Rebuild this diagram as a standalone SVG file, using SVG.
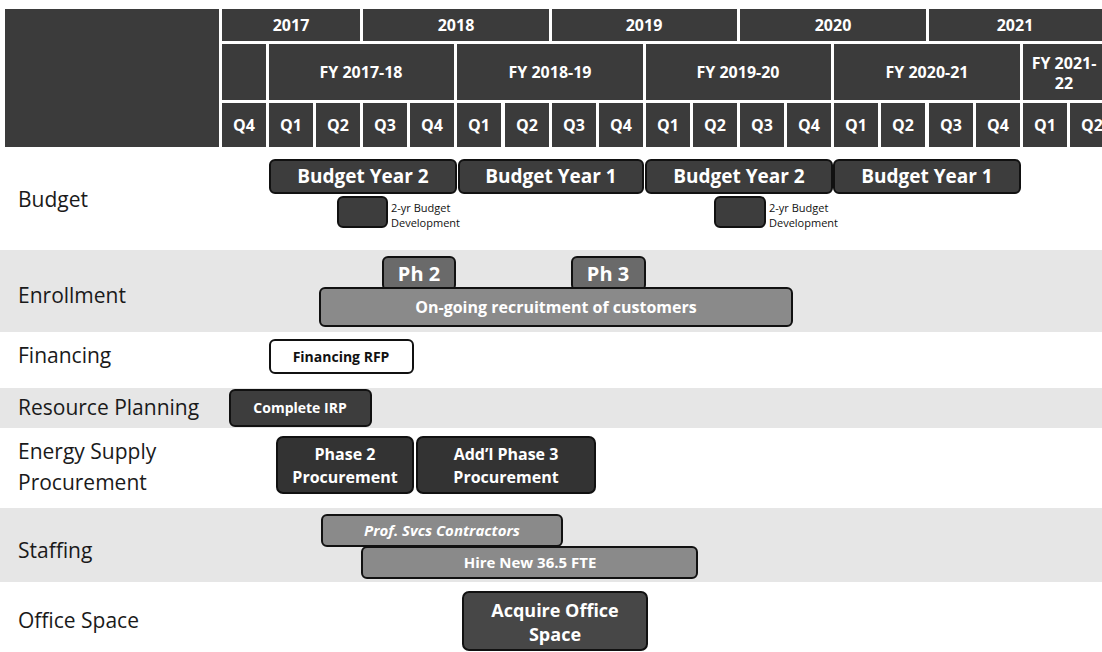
<svg xmlns="http://www.w3.org/2000/svg" width="1102" height="652" viewBox="0 0 1102 652">
<style>
.hdr{fill:#3b3b3b}
.ht{font-family:"Open Sans","Liberation Sans",sans-serif;font-weight:bold;fill:#fff;text-anchor:middle;font-size:16px}
.lbl{font-family:"Open Sans","Liberation Sans",sans-serif;font-size:21px;fill:#1a1a1a}
.band{fill:#e6e6e6}
.bar{stroke:#111;stroke-width:2}
.dark{fill:#3d3d3d}
.mid{fill:#8a8a8a}
.ph{fill:#6a6a6a}
.wt{font-family:"Open Sans","Liberation Sans",sans-serif;font-weight:bold;fill:#fff;text-anchor:middle}
.bt{font-family:"Open Sans","Liberation Sans",sans-serif;font-weight:bold;fill:#111;text-anchor:middle}
.sm{font-family:"Open Sans","Liberation Sans",sans-serif;font-size:11px;fill:#111}
</style>
<rect width="1102" height="652" fill="#fff"/>
<!-- bands -->
<rect class="band" x="0" y="250" width="1102" height="82"/>
<rect class="band" x="0" y="388" width="1102" height="40"/>
<rect class="band" x="0" y="508" width="1102" height="74"/>

<g id="header">
<rect class="hdr" x="5" y="9" width="214" height="138"/>
<rect class="hdr" x="222" y="9" width="138" height="32"/>
<rect class="hdr" x="363" y="9" width="186" height="32"/>
<rect class="hdr" x="552" y="9" width="185" height="32"/>
<rect class="hdr" x="740" y="9" width="186" height="32"/>
<rect class="hdr" x="929" y="9" width="173" height="32"/>
<text class="ht" x="291" y="31">2017</text>
<text class="ht" x="456" y="31">2018</text>
<text class="ht" x="644" y="31">2019</text>
<text class="ht" x="833" y="31">2020</text>
<text class="ht" x="1015" y="31">2021</text>
<rect class="hdr" x="222" y="44" width="44" height="56"/>
<rect class="hdr" x="269" y="44" width="185" height="56"/>
<rect class="hdr" x="457" y="44" width="186" height="56"/>
<rect class="hdr" x="646" y="44" width="185" height="56"/>
<rect class="hdr" x="834" y="44" width="186" height="56"/>
<rect class="hdr" x="1023" y="44" width="79" height="56"/>
<text class="ht" x="361" y="78">FY 2017-18</text>
<text class="ht" x="550" y="78">FY 2018-19</text>
<text class="ht" x="738" y="78">FY 2019-20</text>
<text class="ht" x="927" y="78">FY 2020-21</text>
<text class="ht" x="1064" y="69">FY 2021-</text>
<text class="ht" x="1064" y="89">22</text>
<g>
<rect class="hdr" x="222" y="103" width="44" height="44"/>
<rect class="hdr" x="269" y="103" width="44" height="44"/>
<rect class="hdr" x="316" y="103" width="44" height="44"/>
<rect class="hdr" x="363" y="103" width="44" height="44"/>
<rect class="hdr" x="410" y="103" width="44" height="44"/>
<rect class="hdr" x="457" y="103" width="44" height="44"/>
<rect class="hdr" x="505" y="103" width="44" height="44"/>
<rect class="hdr" x="552" y="103" width="44" height="44"/>
<rect class="hdr" x="599" y="103" width="44" height="44"/>
<rect class="hdr" x="646" y="103" width="44" height="44"/>
<rect class="hdr" x="693" y="103" width="44" height="44"/>
<rect class="hdr" x="740" y="103" width="44" height="44"/>
<rect class="hdr" x="787" y="103" width="44" height="44"/>
<rect class="hdr" x="834" y="103" width="44" height="44"/>
<rect class="hdr" x="881" y="103" width="44" height="44"/>
<rect class="hdr" x="929" y="103" width="44" height="44"/>
<rect class="hdr" x="976" y="103" width="44" height="44"/>
<rect class="hdr" x="1023" y="103" width="44" height="44"/>
<rect class="hdr" x="1070" y="103" width="44" height="44"/>
</g>
<g class="ht">
<text x="244" y="131">Q4</text>
<text x="291" y="131">Q1</text>
<text x="338" y="131">Q2</text>
<text x="385" y="131">Q3</text>
<text x="432" y="131">Q4</text>
<text x="479" y="131">Q1</text>
<text x="527" y="131">Q2</text>
<text x="574" y="131">Q3</text>
<text x="621" y="131">Q4</text>
<text x="668" y="131">Q1</text>
<text x="715" y="131">Q2</text>
<text x="762" y="131">Q3</text>
<text x="809" y="131">Q4</text>
<text x="856" y="131">Q1</text>
<text x="903" y="131">Q2</text>
<text x="951" y="131">Q3</text>
<text x="998" y="131">Q4</text>
<text x="1045" y="131">Q1</text>
<text x="1092" y="131">Q2</text>
</g>
</g>

<g id="row-labels">
<text class="lbl" x="18" y="207">Budget</text>
<text class="lbl" x="18" y="303">Enrollment</text>
<text class="lbl" x="18" y="363">Financing</text>
<text class="lbl" x="18" y="415">Resource Planning</text>
<text class="lbl" x="18" y="459">Energy Supply</text>
<text class="lbl" x="18" y="490">Procurement</text>
<text class="lbl" x="18" y="558">Staffing</text>
<text class="lbl" x="18" y="628">Office Space</text>
</g>

<g id="budget">
<rect class="bar dark" x="270" y="160" width="186" height="33" rx="5"/>
<text class="wt" x="363" y="183" font-size="19">Budget Year 2</text>
<rect class="bar dark" x="459" y="160" width="184" height="33" rx="5"/>
<text class="wt" x="551" y="183" font-size="19">Budget Year 1</text>
<rect class="bar dark" x="646" y="160" width="186" height="33" rx="5"/>
<text class="wt" x="739" y="183" font-size="19">Budget Year 2</text>
<rect class="bar dark" x="834" y="160" width="186" height="33" rx="5"/>
<text class="wt" x="927" y="183" font-size="19">Budget Year 1</text>
</g>
<g id="budget-dev">
<rect class="bar dark" x="338" y="197" width="49" height="30" rx="5"/>
<text class="sm" x="391" y="212">2-yr Budget</text>
<text class="sm" x="391" y="227">Development</text>
<rect class="bar dark" x="715" y="197" width="50" height="30" rx="5"/>
<text class="sm" x="769" y="212">2-yr Budget</text>
<text class="sm" x="769" y="227">Development</text>
</g>

<g id="enrollment">
<rect class="bar ph" x="383" y="257" width="72" height="33" rx="5"/>
<text class="wt" x="419" y="281" font-size="20">Ph 2</text>
<rect class="bar ph" x="572" y="257" width="73" height="33" rx="5"/>
<text class="wt" x="608" y="281" font-size="20">Ph 3</text>
<rect class="bar mid" x="320" y="288" width="472" height="38" rx="5"/>
<text class="wt" x="556" y="313" font-size="16">On-going recruitment of customers</text>
</g>

<g id="financing">
<rect class="bar" fill="#fff" x="270" y="340" width="143" height="33" rx="5"/>
<text class="bt" x="341" y="362" font-size="14">Financing RFP</text>
</g>

<g id="resource-planning">
<rect class="bar dark" x="230" y="390" width="141" height="36" rx="5"/>
<text class="wt" x="300" y="413" font-size="14">Complete IRP</text>
</g>

<g id="procurement">
<rect class="bar" fill="#333" x="277" y="437" width="136" height="56" rx="6"/>
<text class="wt" x="345" y="460" font-size="16">Phase 2</text>
<text class="wt" x="345" y="483" font-size="16">Procurement</text>
<rect class="bar" fill="#333" x="417" y="437" width="178" height="56" rx="6"/>
<text class="wt" x="506" y="460" font-size="16">Add’l Phase 3</text>
<text class="wt" x="506" y="483" font-size="16">Procurement</text>
</g>

<g id="staffing">
<rect class="bar mid" x="322" y="515" width="240" height="31" rx="5"/>
<text class="wt" x="442" y="536" font-size="15" font-style="italic">Prof. Svcs Contractors</text>
<rect class="bar mid" x="362" y="547" width="335" height="31" rx="5"/>
<text class="wt" x="530" y="568" font-size="15">Hire New 36.5 FTE</text>
</g>

<g id="office-space">
<rect class="bar" fill="#474747" x="463" y="592" width="184" height="58" rx="6"/>
<text class="wt" x="555" y="617" font-size="18">Acquire Office</text>
<text class="wt" x="555" y="641" font-size="18">Space</text>
</g>
<g id="connectors"/>
</svg>
